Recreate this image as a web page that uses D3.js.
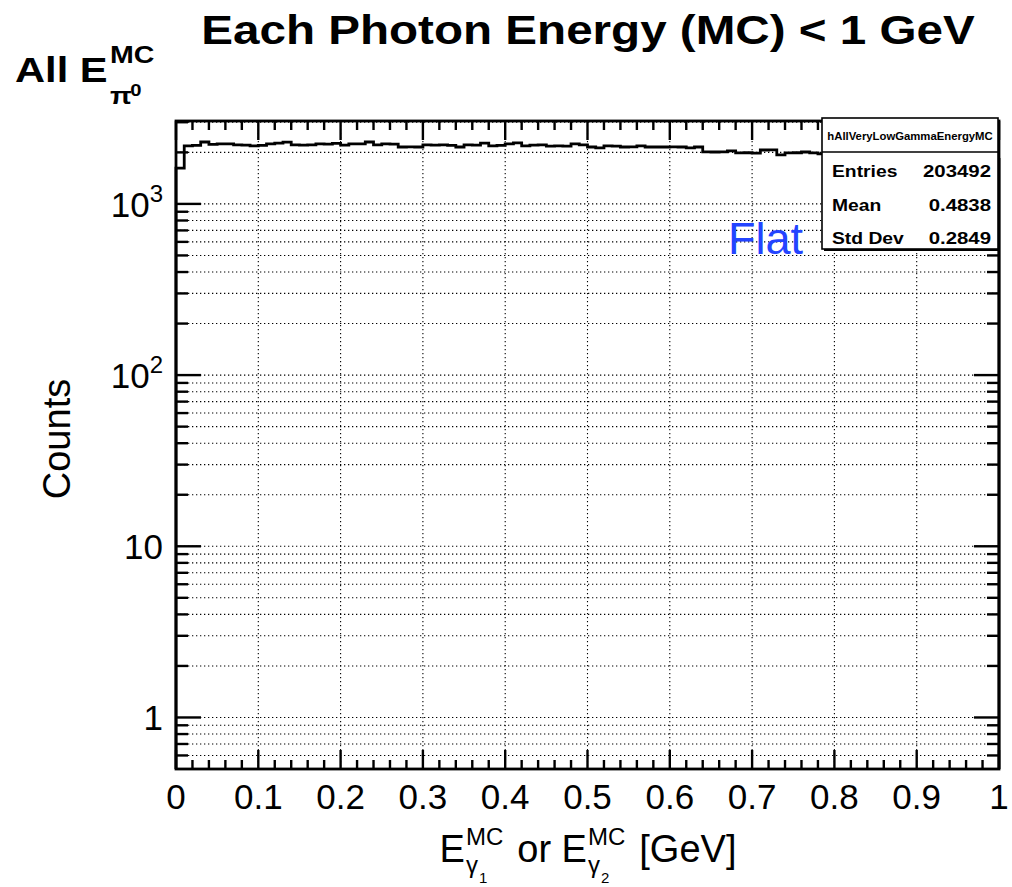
<!DOCTYPE html>
<html>
<head>
<meta charset="utf-8">
<script src="https://cdn.jsdelivr.net/npm/d3@7"></script>
<style>
  html, body { margin: 0; padding: 0; background: #fff; }
  svg { display: block; }
  text { font-family: "Liberation Sans", Arial, Helvetica, sans-serif; fill: #000; }
</style>
</head>
<body>
<svg id="chart" width="1012" height="887"></svg>
<script>
// Histogram: photon energy (MC), 100 bins over [0, 1] GeV
const binEdgesRange = [0, 1];
const counts = [
  1620, 2180, 2200, 2300, 2230, 2240, 2240, 2210, 2205, 2180,
  2200, 2245, 2265, 2295, 2210, 2205, 2215, 2240, 2235, 2260,
  2205, 2240, 2245, 2300, 2210, 2240, 2235, 2150, 2155, 2150,
  2210, 2205, 2215, 2200, 2150, 2210, 2205, 2265, 2180, 2200,
  2240, 2270, 2180, 2205, 2210, 2175, 2180, 2175, 2240, 2210,
  2150, 2125, 2180, 2175, 2150, 2155, 2180, 2150, 2150, 2150,
  2155, 2150, 2125, 2150, 2015, 2010, 2015, 2040, 1985, 1990,
  1980, 2065, 2070, 1935, 1985, 1990, 2010, 1985, 1960, 1940,
  1925, 1950, 1900, 1930, 1910, 1885, 1920, 1895, 1870, 1905,
  1880, 1860, 1890, 1850, 1875, 1840, 1860, 1830, 1850, 1820
];
const xTickLabels = ["0", "0.1", "0.2", "0.3", "0.4", "0.5", "0.6", "0.7", "0.8", "0.9", "1"];
const yDecades = [1, 10, 100, 1000];
const yRange = [0.5, 3050];
const statNames = ["Entries", "Mean", "Std Dev"];
const statValues = ["203492", "0.4838", "0.2849"];
const histName = "hAllVeryLowGammaEnergyMC";

const svg = d3.select("#chart");
const frame = { left: 176, right: 999, top: 121, bottom: 769 };

const x = d3.scaleLinear().domain(binEdgesRange).range([frame.left, frame.right]);
const y = d3.scaleLog().domain(yRange).range([frame.bottom, frame.top]);

const nBins = counts.length;
const binW = (binEdgesRange[1] - binEdgesRange[0]) / nBins;

// ---- grid (dotted) ----
const grid = svg.append("g").attr("stroke", "#000").attr("stroke-width", 1.1)
  .attr("stroke-dasharray", "1.3,2.7").attr("fill", "none");
d3.range(1, 10).map(i => i / 10).forEach(v => {
  grid.append("line").attr("x1", x(v)).attr("x2", x(v))
    .attr("y1", frame.top).attr("y2", frame.bottom);
});
// every log tick value inside range
const logTicks = [];
[0.1, 1, 10, 100, 1000].forEach(dec => {
  for (let m = 1; m <= 9; m++) {
    const v = dec * m;
    if (v > yRange[0] && v < yRange[1]) logTicks.push(v);
  }
});
logTicks.forEach(v => {
  grid.append("line").attr("x1", frame.left).attr("x2", frame.right)
    .attr("y1", y(v)).attr("y2", y(v));
});

// ---- histogram outline ----
let d = `M${x(0)},${frame.bottom}`;
counts.forEach((c, i) => {
  const x0 = binEdgesRange[0] + i * binW;
  d += ` V${y(c)} H${x(x0 + binW)}`;
});
d += ` V${frame.bottom}`;
svg.append("path").attr("d", d).attr("fill", "none")
  .attr("stroke", "#000").attr("stroke-width", 2.8).attr("stroke-linejoin", "miter");

// ---- ticks ----
const ticks = svg.append("g").attr("stroke", "#000").attr("stroke-width", 2.4);
const xMinor = d3.range(0, 51).map(i => i / 50);
xMinor.forEach((v, i) => {
  const major = i % 5 === 0;
  const len = major ? 19 : 9;
  ticks.append("line").attr("x1", x(v)).attr("x2", x(v))
    .attr("y1", frame.bottom).attr("y2", frame.bottom - len);
  ticks.append("line").attr("x1", x(v)).attr("x2", x(v))
    .attr("y1", frame.top).attr("y2", frame.top + len);
});
logTicks.forEach(v => {
  const major = yDecades.includes(v);
  const len = major ? 25 : 12;
  ticks.append("line").attr("y1", y(v)).attr("y2", y(v))
    .attr("x1", frame.left).attr("x2", frame.left + len);
  ticks.append("line").attr("y1", y(v)).attr("y2", y(v))
    .attr("x1", frame.right).attr("x2", frame.right - len);
});

// ---- frame ----
svg.append("rect").attr("x", frame.left).attr("y", frame.top)
  .attr("width", frame.right - frame.left).attr("height", frame.bottom - frame.top)
  .attr("fill", "none").attr("stroke", "#000").attr("stroke-width", 2.8);

// ---- x tick labels ----
xTickLabels.forEach(t => {
  svg.append("text").attr("x", x(+t)).attr("y", 809)
    .attr("text-anchor", "middle").attr("font-size", 35).text(t);
});

// ---- y tick labels ----
yDecades.forEach(v => {
  const exp = Math.round(Math.log10(v));
  const g = svg.append("text").attr("y", y(v) + 13).attr("font-size", 35)
    .attr("text-anchor", "end").attr("x", 163);
  if (exp <= 1) { g.text(String(v)); }
  else {
    g.append("tspan").text("10");
    g.append("tspan").attr("font-size", 24).attr("dy", -15).text(String(exp));
  }
});

// ---- y axis title ----
svg.append("text").attr("transform", "translate(70,439) rotate(-90)")
  .attr("text-anchor", "middle").attr("font-size", 38).text("Counts");

// Lay out a run of pieces (base text, superscript/subscript stacks) and centre it.
function richText(parent, pieces, cx, baseline, opts) {
  const g = parent.append("g");
  const inner = g.append("g");
  let cursor = 0;
  pieces.forEach(p => {
    const start = cursor;
    let adv = 0;
    p.parts.forEach(part => {
      const t = inner.append("text").attr("x", start + (part.dx || 0))
        .attr("y", part.dy || 0).attr("font-size", part.size)
        .attr("font-weight", part.weight || opts.weight || "normal").text(part.text);
      const w = t.node().getComputedTextLength() + (part.dx || 0);
      adv = Math.max(adv, w);
    });
    cursor = start + adv + (p.gap || 0);
  });
  const sx = opts.scaleX || 1;
  const left = opts.anchor === "start" ? cx : cx - cursor * sx / 2;
  g.attr("transform", `translate(${left},${baseline}) scale(${sx},1)`);
  return g;
}

// ---- x axis title: E^MC_γ1 or E^MC_γ2 [GeV] ----
const subStack = (n) => ({
  parts: [
    { text: "MC", size: 24, dy: -17 },
    { text: "γ", size: 24, dy: 11 },
    { text: n, size: 15, dy: 21, dx: 13 }
  ], gap: 14
});
richText(svg, [
  { parts: [{ text: "E", size: 38 }], gap: 1 },
  subStack("1"),
  { parts: [{ text: "or E", size: 38 }], gap: 1 },
  subStack("2"),
  { parts: [{ text: "[GeV]", size: 38 }] }
], 588, 862, {});

// ---- main title ----
svg.append("g").attr("transform", "translate(588,44) scale(1.19,1)")
  .append("text").attr("text-anchor", "middle")
  .attr("font-size", 40).attr("font-weight", "bold")
  .text("Each Photon Energy (MC) < 1 GeV");

// ---- top-left label: All E^MC_π0 ----
richText(svg, [
  { parts: [{ text: "All E", size: 35 }], gap: 2 },
  {
    parts: [
      { text: "MC", size: 24, dy: -19 },
      { text: "π", size: 24, dy: 22 },
      { text: "0", size: 17, dy: 14, dx: 17 }
    ]
  }
], 15, 82, { weight: "bold", scaleX: 1.19, anchor: "start" });

// ---- annotation ----
svg.append("text").attr("x", 728).attr("y", 254).attr("font-size", 45)
  .style("fill", "#2344ff").text("Flat");

// ---- stat box ----
const sb = { x: 822, y: 118, w: 176, h: 131, row: 34 };
svg.append("rect").attr("x", sb.x + 2).attr("y", sb.y + 2).attr("width", sb.w).attr("height", sb.h)
  .attr("fill", "#000");
svg.append("rect").attr("x", sb.x).attr("y", sb.y).attr("width", sb.w).attr("height", sb.h)
  .attr("fill", "#fff").attr("stroke", "#000").attr("stroke-width", 1.6);
svg.append("line").attr("x1", sb.x).attr("x2", sb.x + sb.w)
  .attr("y1", sb.y + sb.row).attr("y2", sb.y + sb.row)
  .attr("stroke", "#000").attr("stroke-width", 1.6);
svg.append("g").attr("transform", `translate(${sb.x + sb.w / 2},${sb.y + 22}) scale(1.08,1)`)
  .append("text").attr("text-anchor", "middle").attr("font-size", 10.5)
  .attr("font-weight", "bold").text(histName);
statNames.forEach((n, i) => {
  const yy = sb.y + sb.row + 25 + i * 33.5;
  svg.append("g").attr("transform", `translate(${sb.x + 10},${yy}) scale(1.17,1)`)
    .append("text").attr("font-size", 16.5).attr("font-weight", "bold").text(n);
  svg.append("g").attr("transform", `translate(${sb.x + sb.w - 7},${yy}) scale(1.2,1)`)
    .append("text").attr("font-size", 17).attr("font-weight", "bold")
    .attr("text-anchor", "end").text(statValues[i]);
});
</script>
</body>
</html>
